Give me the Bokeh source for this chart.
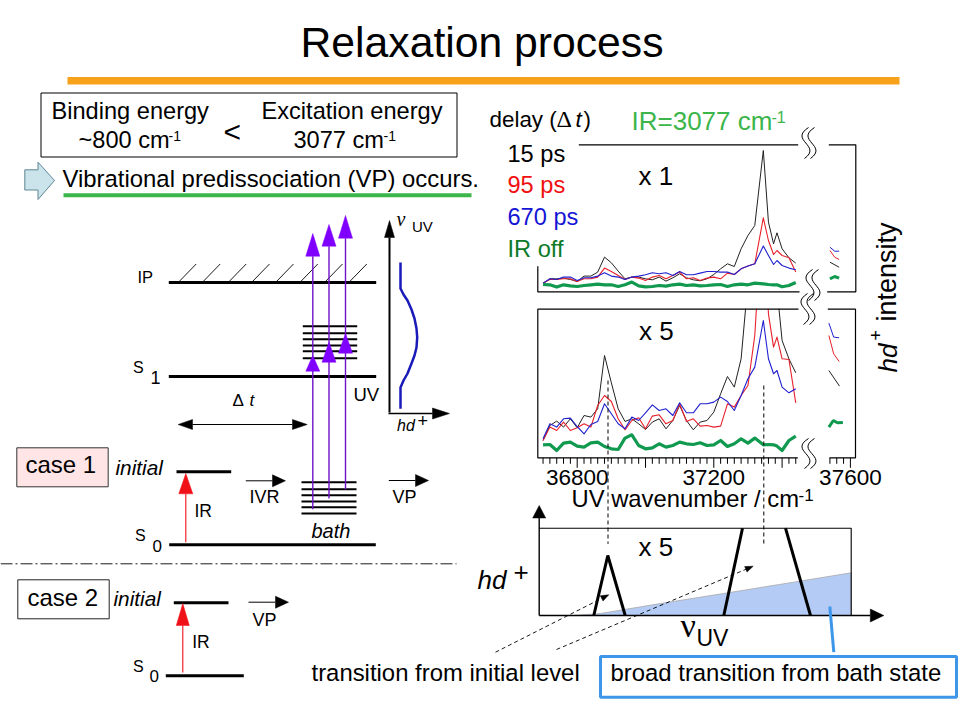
import math
from bokeh.plotting import figure
from bokeh.models import Range1d
from bokeh.core.properties import value
from bokeh.embed import file_html
from bokeh.resources import INLINE

# ---------- spectra data ----------
wavenumber = [36700,36720,36740,36760,36780,36800,36820,36840,36860,36880,36900,36920,36940,36960,36980,
              37000,37020,37040,37060,37080,37100,37120,37140,37160,37180,37200,37220,37240,37260,37280,
              37300,37320,37345,37360,37375,37385,37400,37420,37440]

upper_15ps = [8,13,13,13.7,12.3,10.3,15.7,15.7,19.7,34.7,29,20.7,13,14.7,14.7,13,12,14.7,10.7,14,18,14,12,11,13,
              17.3,23,28,25.3,43,56.3,66.3,141.3,69.7,48,59,43,34,28.7]
upper_95ps = [8.7,12.3,12.3,13,13,10.3,13,13,14.7,23.7,20.3,16.3,12.3,14.7,13.7,11.3,14.7,16.3,13,16.3,19.7,13,14,
              11.3,13.7,14.7,13,18.7,17.3,23,25.7,28,74,51.3,37.3,41.3,36.3,34,19.7]
upper_670ps = [8.7,13,12.3,14.7,14.7,11.3,14,14,15.7,19,15.7,14.7,12.3,14.7,15.7,17,19,18,19,16.3,20.3,17,17,18.7,
               20.3,20.3,19.7,19.7,17.3,23,25.7,28,45.7,36.3,27.3,31.3,26.3,23.7,22]
upper_off = [7.3,7,4.7,7,6,5.3,6.3,7,7.7,7,7,5.3,7,9.7,6,5,5.3,6.3,5.7,7,7.7,6.3,7,6,6.3,7,7.3,5.3,7,7.7,7,8.7,8,
             7.3,7,7,5,6.3,9.3]

lower_15ps = [17.3,32.3,36.7,30.7,39,30,42.3,40.7,49,102.3,75,49,36.3,39,34,28.3,35.7,39,29,37.3,52.3,37.3,28,35.7,
              37.3,45.7,64,81.3,70.7,99,175.7,262.3,429,262.3,195.7,169,117.3,99,85]
lower_95ps = [17.3,30.7,27.3,35.7,27.3,30,34,30.7,52.3,62.3,56.3,39,28,37.3,40,29,41.7,43,34,37.3,54,36.3,39,31.7,
              32.3,30.7,31.7,54,50.7,62.3,72.3,122.3,262.3,144,110.7,120.7,99,98.3,55]
lower_670ps = [19,34,30.7,39,39.7,31.3,24,33.3,36.3,54,44,34,29,40.7,37.3,45,53,47.3,49,42.3,55,45,45,54,54,55.7,
               60.7,56.3,47.3,62.3,79,90.7,137.3,99,84,87.3,70.7,65,69]
lower_off = [13,13.3,7.3,14.7,15.7,11.7,10.7,15,15.7,11.3,9,8.3,19.7,23,12.3,9,10,14,10.7,12.3,15.7,14,13.3,15,12.3,
             13,17.3,11.3,14,19,14.7,19.7,13,13.3,13,11.7,7.3,17.3,21.7]

frag_upper_wn = [37540,37554,37567]
frag_upper_670 = [44.6,40.6,40.6]
frag_upper_95 = [41.3,34.6,32.3]
frag_upper_15_wn = [37540,37567]
frag_upper_15 = [29.6,24.6]
frag_upper_off = [13,15.3,13.6]

frag_lower_wn = [37537,37551,37567]
frag_lower_670 = [134.7,120.7,120]
frag_lower_95 = [122.3,104,96.3]
frag_lower_15_wn = [37537,37568]
frag_lower_15 = [87.3,71.7]
frag_lower_off_wn = [37537,37550,37562,37578]
frag_lower_off = [30.7,37.3,35,35.3]

minor_ticks_left = list(range(36700, 37441, 20))
major_ticks_left = [36800, 37000, 37200, 37400]
minor_ticks_right = [37540, 37560, 37580, 37600]
major_ticks_right = [37600]
tick_labels = ["36800", "37200", "37600"]
tick_label_values = [36800, 37200, 37600]

# ---------- figure: reference pixel frame plus spectral scales ----------
X0, X1, Y0, Y1 = 0, 960, 720, 0
PX_PER_WN = 0.3415
WN_AT_0 = 36800 - 576.7 / PX_PER_WN
UP_BASE, LOW_BASE = 291.3, 457.3
BASE_K = 0.38  # Bokeh's alphabetic text sits this many ems below the anchor

p = figure(width=960, height=720, x_range=Range1d(X0, X1), y_range=Range1d(Y0, Y1),
           output_backend="svg", toolbar_location=None, min_border=0,
           x_axis_type=None, y_axis_type=None, background_fill_color="white", border_fill_color="white")
p.grid.visible = False
p.outline_line_color = None
p.extra_x_ranges = {"wn": Range1d(WN_AT_0 + X0 / PX_PER_WN, WN_AT_0 + X1 / PX_PER_WN)}
p.extra_y_ranges = {"upper": Range1d(UP_BASE - Y0, UP_BASE - Y1), "lower": Range1d(LOW_BASE - Y0, LOW_BASE - Y1)}

SANS = value("Liberation Sans")
SERIF = value("Liberation Serif")
BLACK, RED, BLUE, GREEN = "#222222", "#e8202a", "#2020d0", "#10994f"
LGREEN = "#3cb54a"
SKY = "#3d96e8"
PURPLE = "#6f12c8"
VIOLET = "#8000ff"


def T(x, y, s, size, color="black", align="left", style="normal", font=SANS, angle=0):
    if angle:
        x -= BASE_K * size
    else:
        y -= BASE_K * size
    p.text(x=[x], y=[y], text=[s], text_font=font, text_font_size=f"{size}px", text_color=color,
           text_align=align, text_baseline="alphabetic", text_font_style=style, angle=angle)


def L(xs, ys, color="black", w=1.0, dash="solid"):
    p.line(xs, ys, line_color=color, line_width=w, line_dash=dash)


def tri(x0, y0, x1, y1, hw, color):
    dx, dy = x1 - x0, y1 - y0
    n = math.hypot(dx, dy)
    nx, ny = -dy / n * hw / 2, dx / n * hw / 2
    p.patch([x1, x0 + nx, x0 - nx], [y1, y0 + ny, y0 - ny], fill_color=color, line_color=color, line_width=0.5)


def arrow(x0, y0, x1, y1, hl, hw, color="black", w=1.0, dash="solid"):
    dx, dy = x1 - x0, y1 - y0
    n = math.hypot(dx, dy)
    bx, by = x1 - dx / n * hl, y1 - dy / n * hl
    L([x0, bx], [y0, by], color, w, dash)
    tri(bx, by, x1, y1, hw, color)


def squiggle(cx, y0, y1, gap=6):
    h = y1 - y0
    for off in (0, gap):
        p.bezier(x0=[cx + off + 3], y0=[y0], x1=[cx + off - 1], y1=[y1],
                 cx0=[cx + off - 17], cy0=[y0 + 0.42 * h], cx1=[cx + off + 17], cy1=[y0 + 0.58 * h],
                 line_color="black", line_width=1)


# ---------- lower spectra first, then a white mask that clips them at the panel top ----------
for series, col, wd in [(lower_15ps, BLACK, 1), (lower_95ps, RED, 1.1), (lower_670ps, BLUE, 1.1), (lower_off, GREEN, 3.2)]:
    p.line(wavenumber, series, x_range_name="wn", y_range_name="lower", line_color=col, line_width=wd, line_join="round")
p.quad(left=[538], right=[826], top=[0], bottom=[308.2], fill_color="white", line_color=None)

# upper spectra
for series, col, wd in [(upper_15ps, BLACK, 1), (upper_95ps, RED, 1.1), (upper_670ps, BLUE, 1.1), (upper_off, GREEN, 3.2)]:
    p.line(wavenumber, series, x_range_name="wn", y_range_name="upper", line_color=col, line_width=wd, line_join="round")
for xs, ys, col, wd, rng in [
    (frag_upper_wn, frag_upper_670, BLUE, 1, "upper"),
    (frag_upper_wn, frag_upper_95, RED, 1, "upper"),
    (frag_upper_15_wn, frag_upper_15, BLACK, 1, "upper"),
    (frag_upper_wn, frag_upper_off, GREEN, 3, "upper"),
    (frag_lower_wn, frag_lower_670, BLUE, 1, "lower"),
    (frag_lower_wn, frag_lower_95, RED, 1, "lower"),
    (frag_lower_15_wn, frag_lower_15, BLACK, 1, "lower"),
    (frag_lower_off_wn, frag_lower_off, GREEN, 3, "lower"),
]:
    p.line(xs, ys, x_range_name="wn", y_range_name=rng, line_color=col, line_width=wd)

# panel frames
L([537.3, 537.3, 799], [265.7, 291.3, 291.3], w=1.2)
L([578.3, 797.7], [144.3, 144.3], w=1.2)
L([828.3, 855.3, 855.3, 826.7], [144.3, 144.3, 291.3, 291.3], w=1.2)
L([798, 537.3, 537.3, 797.3], [308.7, 308.7, 457.3, 457.3], w=1.2)
L([827.3, 855, 855, 829], [308.7, 308.7, 457.3, 457.3], w=1.2)
squiggle(805, 127, 158)
squiggle(809, 269, 300)
squiggle(804, 293, 324)
squiggle(805, 438, 468)

# ticks of the lower panel, on the wavenumber scale
for tk, maj in [(minor_ticks_left, major_ticks_left), (minor_ticks_right, major_ticks_right)]:
    p.segment(x0=tk, x1=tk, y0=[0] * len(tk), y1=[-10 if t in maj else -6 for t in tk],
              x_range_name="wn", y_range_name="lower", line_color="black", line_width=1)
p.text(x=tick_label_values, y=[-28 + BASE_K * 22.5] * 3, text=tick_labels, x_range_name="wn", y_range_name="lower", text_font=SANS,
       text_font_size="22.5px", text_align="center", text_baseline="alphabetic", text_color="black")

# dashed guide lines
L([607.5, 607.5], [380, 543.3], w=1, dash="4 3")
L([763.3, 763.3], [385, 543.3], w=1, dash="4 3")

T(571, 507, "UV wavenumber / cm", 23.8)
T(798, 501, "-1", 17)

# spectrum labels
T(489, 128, "delay (", 22.4)
T(556, 128, "\u0394", 24, font=SERIF)
T(575, 128, "t", 22.4, style="italic")
T(583, 128, ")", 22.4)
T(631, 130.7, "IR=3077 cm", 26, LGREEN)
T(771, 123, "-1", 16, LGREEN)
T(507, 162.3, "15 ps", 23.6)
T(507, 193.3, "95 ps", 23.6, "#f01010")
T(507, 225, "670 ps", 23.6, "#1515d5")
T(507, 257, "IR off", 23.6, "#0d7a28")
T(638, 185, "x 1", 26)
T(638.5, 340, "x 5", 26)

# right rotated title
T(897, 372, "hd", 26, style="italic", angle=math.pi / 2)
T(882, 340, "+", 18, angle=math.pi / 2)
T(897, 321, "intensity", 27, angle=math.pi / 2)

# ---------- header ----------
T(300, 58, "Relaxation process", 42.7)
p.quad(left=[67], right=[899], top=[76.5], bottom=[84], fill_color="#f8a11a", line_color=None)
p.quad(left=[40.5], right=[456.5], top=[92.5], bottom=[156.5], fill_color=None, line_color="black", line_width=1)
T(51, 119, "Binding energy", 23.6)
T(78, 148, "~800 cm", 23.6)
T(168, 141, "-1", 14)
T(261, 119, "Excitation energy", 23.6)
T(293, 148, "3077 cm", 23.6)
T(383, 141, "-1", 14)
T(223, 142, "<", 30)
p.patch([24.3, 37.5, 37.5, 54, 37.5, 37.5, 24.3], [169.3, 169.3, 161.7, 180, 199, 189.5, 189.5],
        fill_color="#cbe3ea", line_color="#5f8795", line_width=1)
T(62, 187, "Vibrational predissociation (VP) occurs.", 23.9)
L([63, 471], [194.7, 194.7], LGREEN, 4)

# ---------- energy diagram ----------
L([168.3, 375.7], [282, 282], w=3)
hatch_x = [177.7, 201.7, 227.7, 251, 275, 299.3, 324, 348.3]
p.segment(x0=hatch_x, y0=[282] * 8, x1=[h + 18 for h in hatch_x], y1=[263.5] * 8, line_color="black", line_width=0.9)
T(137, 283, "IP", 16.5)
L([168.3, 375.7], [376, 376], w=3)
T(132.5, 373, "S", 16)
T(150, 384, "1", 18)
for yy in [325.7, 332.7, 338.7, 345, 350.7, 357.7]:
    L([302.3, 356.7], [yy, yy], w=2)
for yy in [481.7, 488.7, 494.7, 501, 506.7, 513]:
    L([301, 356], [yy, yy], w=2)
for x, yb, t1, b1, t2, b2 in [(312.3, 508.7, 233, 255.7, 355, 370.7),
                              (328.5, 498, 224, 245.7, 341.7, 361.7),
                              (345, 489, 215, 237.7, 333, 352.7)]:
    L([x, x], [yb, b1], PURPLE, 1.4)
    tri(x, b1, x, t1, 14, VIOLET)
    tri(x, b2, x, t2, 14, VIOLET)
L([192, 292], [424, 424], w=1)
tri(192, 424, 177.7, 424, 10, "black")
tri(292, 424, 306.7, 424, 10, "black")
T(232, 406, "\u0394", 17)
T(249, 406, "t", 17, style="italic")
T(353, 401, "UV", 18.5)
arrow(389, 412, 389, 220, 17, 10, w=2)
arrow(388, 413, 449, 413, 17, 11, w=1.6)
p.line([400, 400, 403, 407, 411, 414, 416, 416.7, 416, 414, 411, 407, 403, 400, 400],
       [408.3, 387, 380, 373, 363, 355, 347, 337, 328, 318, 309, 300, 294, 288, 262],
       line_color="#1a1ab8", line_width=2.5, line_join="round")
T(396, 226, "\u03bd", 20, style="italic", font=SERIF)
T(411.5, 231.7, "UV", 15)
T(396.5, 430.7, "hd", 16, style="italic")
T(417, 427, "+", 18)

# cases
p.quad(left=[16.3], right=[107.7], top=[447.3], bottom=[486.3], fill_color="#ffe5e5", line_color="#333333", line_width=1)
T(25, 473.3, "case 1", 24)
p.quad(left=[17.3], right=[108.7], top=[579.3], bottom=[618.3], fill_color="white", line_color="#222222", line_width=1)
T(27, 605.7, "case 2", 24)
T(115, 475, "initial", 20.8, style="italic")
T(113, 606, "initial", 20.8, style="italic")
L([176, 230.7], [471.3, 471.3], w=3)
L([173.3, 228], [602.3, 602.3], w=3)
L([168.7, 375.3], [544.3, 544.3], w=3)
L([165.3, 243.3], [675.3, 675.3], w=3)
arrow(185.3, 541.7, 185.3, 473, 20.3, 14, "#f01018", 1.1)
arrow(182.3, 672, 182.3, 603, 22, 13, "#f01018", 1.1)
T(194, 516.7, "IR", 17.5)
T(191.7, 647.7, "IR", 17.5)
T(134.5, 540.7, "S", 16)
T(152, 551.7, "0", 17)
T(132.5, 671.7, "S", 16)
T(149, 682.3, "0", 17)
arrow(245.3, 480.3, 285, 480.3, 13, 12, w=1)
arrow(388.3, 480, 428, 480, 13, 12, w=1)
arrow(248, 601.7, 288, 601.7, 13, 12, w=1)
T(249, 503.3, "IVR", 18)
T(392, 503.3, "VP", 18)
T(252, 626.7, "VP", 18)
T(311, 538.3, "bath", 20, style="italic")
L([0, 456], [563.3, 563.3], w=0.9, dash="12 3 2 3")

# ---------- schematic at lower right ----------
p.patch([573, 600, 660, 723, 793, 850.7, 850.7], [615, 613, 603, 593, 581.7, 572.3, 615],
        fill_color="#b4ccf5", line_color="#a8a8a8", line_width=0.8)
L([538.7, 850.7, 850.7], [527.7, 527.7, 615], w=1.1)
arrow(538.7, 615, 538.7, 505, 12.5, 13, w=1.4)
arrow(538.7, 615, 883.3, 615, 13.5, 13, w=1.5)
L([593.3, 607.3, 624.7], [615, 555, 615], w=3)
L([723.3, 742], [615, 527.7], w=3)
L([785, 810], [527.7, 615], w=3)
arrow(495, 651.7, 608.3, 594.3, 8, 6, w=0.9, dash="4 3")
arrow(556, 649, 752.7, 565.7, 8, 6, w=0.9, dash="4 3")
T(638, 556.7, "x 5", 26)
T(477, 589.3, "hd", 26, style="italic")
T(513, 581, "+", 26)
T(680, 638, "\u03bd", 34, font=SERIF)
T(696, 646.7, "UV", 23)
L([829.3, 833.3], [606, 651.7], SKY, 3)
p.quad(left=[600], right=[956], top=[656], bottom=[696.7], fill_color="white", line_color=SKY, line_width=3)
T(610, 681, "broad transition from bath state", 23.9)
T(311, 681, "transition from initial level", 23.9)

open("out.html", "w").write(file_html(p, INLINE))
